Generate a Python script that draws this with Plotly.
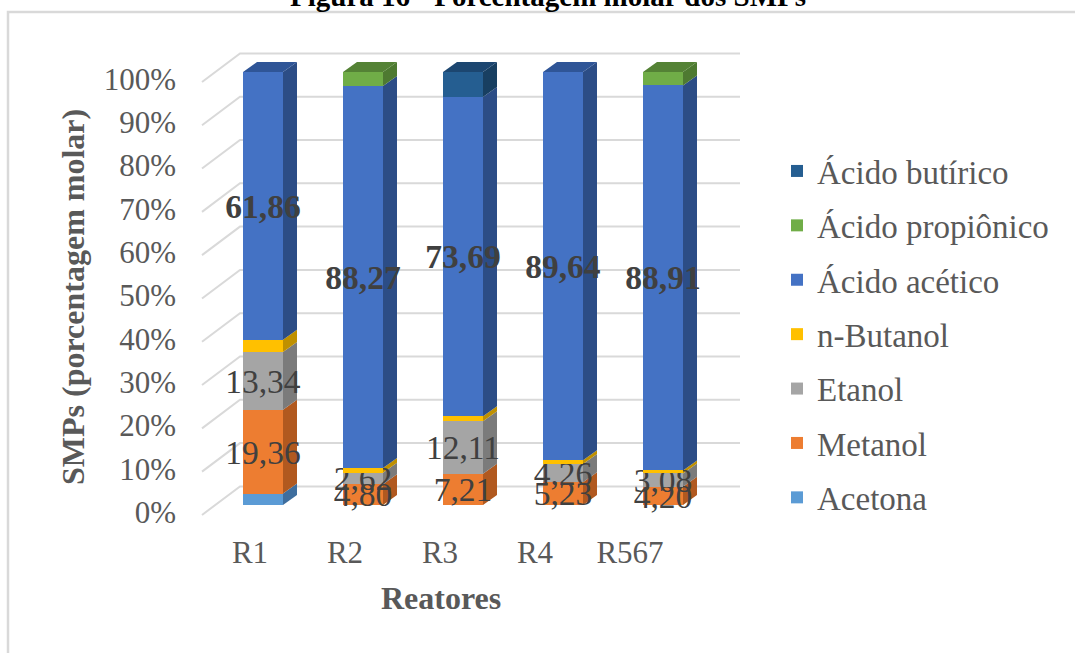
import numpy as np
import plotly.graph_objects as go

# ---- data: molar percentage of SMPs per reactor ----
reatores = ["R1", "R2", "R3", "R4", "R567"]
acetona = [2.64, 0.0, 0.0, 0.0, 0.0]
metanol = [19.36, 4.80, 7.21, 5.23, 4.20]
etanol = [13.34, 2.62, 12.11, 4.26, 3.08]
n_butanol = [2.80, 1.10, 1.20, 0.87, 0.70]
acido_acetico = [61.86, 88.27, 73.69, 89.64, 88.91]
acido_propionico = [0.0, 3.21, 0.0, 0.0, 3.11]
acido_butirico = [0.0, 0.0, 5.79, 0.0, 0.0]
y_ticks = [0, 10, 20, 30, 40, 50, 60, 70, 80, 90, 100]

# (name, values, front colour, side colour, top colour, labelled, bold label)
series = [
    ("Acetona", acetona, "#5B9BD5", "#3E6E9E", "#4A82B8", False, False),
    ("Metanol", metanol, "#ED7D31", "#B1591F", "#C96A28", True, False),
    ("Etanol", etanol, "#A5A5A5", "#7B7B7B", "#8C8C8C", True, False),
    ("n-Butanol", n_butanol, "#FFC000", "#BF9000", "#D9A300", False, False),
    ("Ácido acético", acido_acetico, "#4472C4", "#2C4D86", "#2F5597", True, True),
    ("Ácido propiônico", acido_propionico, "#70AD47", "#4E7A31", "#548235", False, False),
    ("Ácido butírico", acido_butirico, "#255E91", "#183F61", "#1C4670", False, False),
]

# ---- page geometry (pixels) ----
W, H = 1075, 653
L, R, T, B = 190, 760, 40, 530
PW, PH = R - L, B - T

# bar units: category i centred at 263 + 100*i px; value v at 505 - 4.33*v px
X0_PX, X_STEP = 263.0, 100.0
Y0_PX, Y_STEP = 505.0, 4.33
x_range = [(L - X0_PX) / X_STEP, (R - X0_PX) / X_STEP]
y_range = [(Y0_PX - B) / Y_STEP, (Y0_PX - T) / Y_STEP]
# category labels sit on a slightly compressed perspective scale
LAB0_PX, LAB_STEP = 250.0, 95.0
x3_range = [(L - LAB0_PX) / LAB_STEP, (R - LAB0_PX) / LAB_STEP]

BAR_W = 0.4          # front face width
DX = 0.14            # depth offset, x units
DY = 10.0 / Y_STEP   # depth offset, y units

# back wall / floor perspective
WALL_FRONT_X, WALL_BACK_X, WALL_RIGHT_X = -0.61, -0.23, 4.77
WALL_FRONT_DY, WALL_BACK_DY = -2.3, 4.3


def px_x(p):
    return (p - L) / PW


def px_y(p):
    return (B - p) / PH


def fmt(v):
    return f"{v:.2f}".replace(".", ",")


FONT = "Liberation Serif, Times New Roman, serif"
GRAY_TXT = "#595959"

fig = go.Figure()

# ---- back wall grid lines with diagonal floor edge (bottom layer) ----
gx, gy = [], []
for v in y_ticks:
    gx += [WALL_FRONT_X, WALL_BACK_X, WALL_RIGHT_X, None]
    gy += [v + WALL_FRONT_DY, v + WALL_BACK_DY, v + WALL_BACK_DY, None]
fig.add_trace(go.Scatter(
    x=gx, y=gy, mode="lines", line=dict(color="#D9D9D9", width=2),
    hoverinfo="skip", showlegend=False, xaxis="x", yaxis="y",
))

xpos = np.arange(len(reatores), dtype=float)

# ---- side and top faces (depth) from the stacked totals, under the front faces ----
stack = np.array([s[1] for s in series], dtype=float)
tops = np.cumsum(stack, axis=0)
bases = tops - stack
total = tops[-1]
for k, (name, vals, c_front, c_side, c_top, labelled, bold) in enumerate(series):
    sx, sy, tx, ty = [], [], [], []
    for i, xc in enumerate(xpos):
        if stack[k, i] <= 0:
            continue
        xr = xc + BAR_W / 2
        b0, t0 = bases[k, i], tops[k, i]
        sx += [xr, xr + DX, xr + DX, xr, xr, None]
        sy += [b0, b0 + DY, t0 + DY, t0, b0, None]
        if np.isclose(t0, total[i]):
            xl = xc - BAR_W / 2
            tx += [xl, xl + DX, xr + DX, xr, xl, None]
            ty += [t0, t0 + DY, t0 + DY, t0, t0, None]
    if sx:
        fig.add_trace(go.Scatter(
            x=sx, y=sy, mode="lines", fill="toself", fillcolor=c_side,
            line=dict(width=0, color=c_side), hoverinfo="skip",
            showlegend=False, xaxis="x", yaxis="y",
        ))
    if tx:
        fig.add_trace(go.Scatter(
            x=tx, y=ty, mode="lines", fill="toself", fillcolor=c_top,
            line=dict(width=0, color=c_top), hoverinfo="skip",
            showlegend=False, xaxis="x", yaxis="y",
        ))

# ---- front faces of stacked columns, with value labels ----
n_series = len(series)
for k, (name, vals, c_front, c_side, c_top, labelled, bold) in enumerate(series):
    text = [fmt(v) if (labelled and v > 0) else "" for v in vals]
    fig.add_trace(go.Bar(
        x=xpos, y=vals, name=name, width=BAR_W,
        marker=dict(color=c_front, line=dict(width=0)),
        text=text, textposition="inside", insidetextanchor="middle",
        textangle=0, constraintext="none", cliponaxis=False,
        textfont=dict(family=FONT, size=33.5, color="#404040",
                      weight="bold" if bold else "normal"),
        legendgroup=name, legendrank=n_series - k,
        xaxis="x2", yaxis="y2",
        hovertemplate=name + ": %{y:.2f}%<extra></extra>",
    ))

# carrier trace for the category axis
fig.add_trace(go.Scatter(
    x=list(range(len(reatores))), y=[None] * len(reatores), mode="markers",
    hoverinfo="skip", showlegend=False, xaxis="x3", yaxis="y",
))

hidden = dict(showgrid=False, zeroline=False, showline=False,
              showticklabels=False, ticks="")

fig.update_layout(
    width=W, height=H,
    margin=dict(l=L, r=W - R, t=T, b=H - B),
    paper_bgcolor="white", plot_bgcolor="rgba(0,0,0,0)",
    barmode="stack", bargap=0,
    font=dict(family=FONT, color=GRAY_TXT),
    xaxis=dict(range=x_range, fixedrange=True, **hidden),
    yaxis=dict(
        range=y_range, fixedrange=True, showgrid=False, zeroline=False,
        showline=False, ticks="", tickvals=y_ticks,
        ticktext=[f"{v}%" for v in y_ticks],
        tickfont=dict(family=FONT, size=31, color=GRAY_TXT),
        ticklabelstandoff=13, ticklabelshift=7,
    ),
    xaxis2=dict(range=x_range, overlaying="x", anchor="y2", fixedrange=True, **hidden),
    yaxis2=dict(range=y_range, overlaying="y", anchor="x2", fixedrange=True, **hidden),
    xaxis3=dict(
        range=x3_range, overlaying="x", anchor="y", side="bottom",
        fixedrange=True, showgrid=False, zeroline=False, showline=False,
        ticks="", tickvals=list(range(len(reatores))), ticktext=reatores,
        tickfont=dict(family=FONT, size=31, color=GRAY_TXT),
        ticklabelstandoff=1,
    ),
    legend=dict(
        x=px_x(777), y=px_y(143), xanchor="left", yanchor="top",
        traceorder="grouped", tracegroupgap=8.5,
        font=dict(family=FONT, size=33, color=GRAY_TXT),
        bgcolor="rgba(0,0,0,0)", itemclick=False, itemdoubleclick=False,
    ),
    showlegend=True,
)

# chart frame
fig.add_shape(
    type="rect", xref="paper", yref="paper",
    x0=px_x(8), x1=px_x(1090), y0=px_y(670), y1=px_y(12),
    line=dict(color="#D9D9D9", width=2.5), fillcolor="rgba(0,0,0,0)", layer="below",
)

# figure caption above the frame
fig.add_annotation(
    text="<b>Figura 16 - Porcentagem molar dos SMPs</b>",
    xref="paper", yref="paper", x=px_x(548), y=px_y(14),
    xanchor="center", yanchor="bottom", showarrow=False,
    font=dict(family=FONT, size=29, color="#000000"),
)
# axis titles
fig.add_annotation(
    text="<b>SMPs (porcentagem molar)</b>",
    xref="paper", yref="paper", x=px_x(73), y=px_y(297),
    xanchor="center", yanchor="middle", textangle=-90, showarrow=False,
    font=dict(family=FONT, size=32, color=GRAY_TXT),
)
fig.add_annotation(
    text="<b>Reatores</b>",
    xref="paper", yref="paper", x=px_x(441), y=px_y(598),
    xanchor="center", yanchor="middle", showarrow=False,
    font=dict(family=FONT, size=32, color=GRAY_TXT),
)

fig.write_html("out.html")
